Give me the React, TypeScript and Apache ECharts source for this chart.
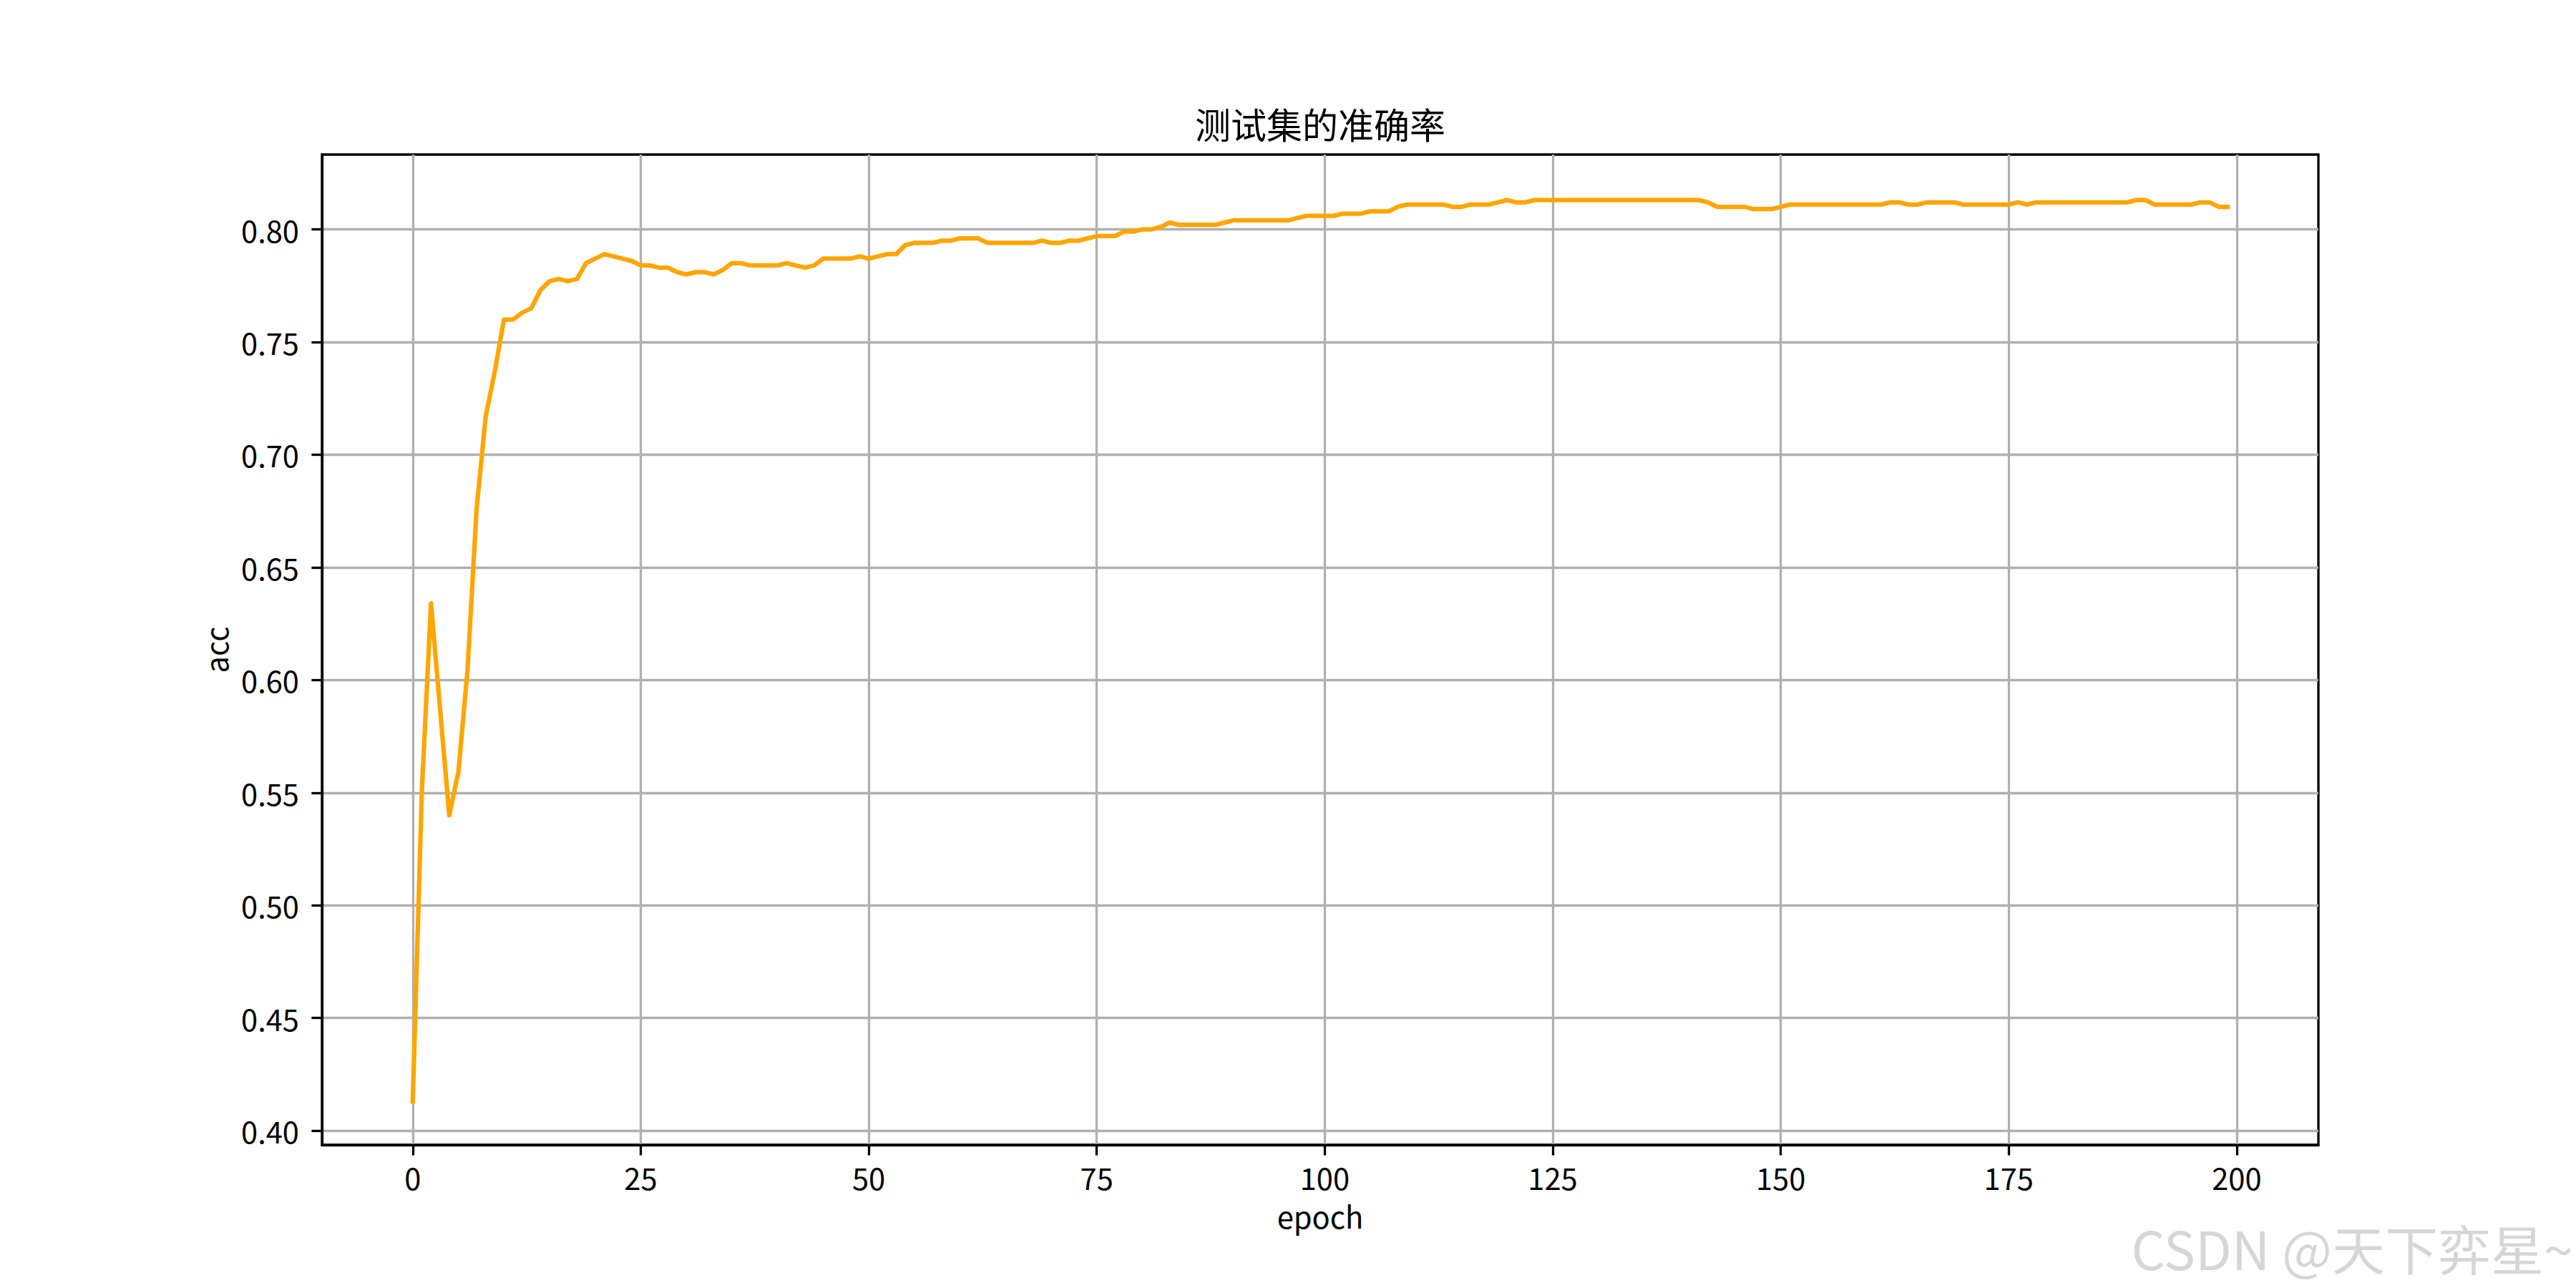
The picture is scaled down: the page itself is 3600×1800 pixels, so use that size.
import React, { useEffect, useRef } from "react";
import * as echarts from "echarts";

// test-set accuracy per epoch (epochs 0..199)
const acc: number[] = [
  0.413, 0.551, 0.634, 0.587, 0.540, 0.559, 0.604, 0.676, 0.717, 0.737,
  0.760, 0.760, 0.763, 0.765, 0.773, 0.777, 0.778, 0.777, 0.778, 0.785,
  0.787, 0.789, 0.788, 0.787, 0.786, 0.784, 0.784, 0.783, 0.783, 0.781,
  0.780, 0.781, 0.781, 0.780, 0.782, 0.785, 0.785, 0.784, 0.784, 0.784,
  0.784, 0.785, 0.784, 0.783, 0.784, 0.787, 0.787, 0.787, 0.787, 0.788,
  0.787, 0.788, 0.789, 0.789, 0.793, 0.794, 0.794, 0.794, 0.795, 0.795,
  0.796, 0.796, 0.796, 0.794, 0.794, 0.794, 0.794, 0.794, 0.794, 0.795,
  0.794, 0.794, 0.795, 0.795, 0.796, 0.797, 0.797, 0.797, 0.799, 0.799,
  0.800, 0.800, 0.801, 0.803, 0.802, 0.802, 0.802, 0.802, 0.802, 0.803,
  0.804, 0.804, 0.804, 0.804, 0.804, 0.804, 0.804, 0.805, 0.806, 0.806,
  0.806, 0.806, 0.807, 0.807, 0.807, 0.808, 0.808, 0.808, 0.810, 0.811,
  0.811, 0.811, 0.811, 0.811, 0.810, 0.810, 0.811, 0.811, 0.811, 0.812,
  0.813, 0.812, 0.812, 0.813, 0.813, 0.813, 0.813, 0.813, 0.813, 0.813,
  0.813, 0.813, 0.813, 0.813, 0.813, 0.813, 0.813, 0.813, 0.813, 0.813,
  0.813, 0.813, 0.812, 0.810, 0.810, 0.810, 0.810, 0.809, 0.809, 0.809,
  0.810, 0.811, 0.811, 0.811, 0.811, 0.811, 0.811, 0.811, 0.811, 0.811,
  0.811, 0.811, 0.812, 0.812, 0.811, 0.811, 0.812, 0.812, 0.812, 0.812,
  0.811, 0.811, 0.811, 0.811, 0.811, 0.811, 0.812, 0.811, 0.812, 0.812,
  0.812, 0.812, 0.812, 0.812, 0.812, 0.812, 0.812, 0.812, 0.812, 0.813,
  0.813, 0.811, 0.811, 0.811, 0.811, 0.811, 0.812, 0.812, 0.810, 0.810,
];

const xTicks: number[] = [0, 25, 50, 75, 100, 125, 150, 175, 200];
const yTicks: number[] = [0.4, 0.45, 0.5, 0.55, 0.6, 0.65, 0.7, 0.75, 0.8];

const titleText = "测试集的准确率";
const xName = "epoch";
const yName = "acc";
const watermark = "CSDN @天下弈星~";

const FONT = '"Noto Sans CJK SC", "Noto Sans", sans-serif';

export default function App() {
  const ref = useRef<HTMLDivElement>(null);

  useEffect(() => {
    if (!ref.current) return;
    const chart = echarts.init(ref.current, null, { renderer: "svg" });
    const lw = 3.3;
    chart.setOption({
      animation: false,
      backgroundColor: "#ffffff",
      grid: {
        left: 450,
        right: 360,
        top: 216,
        bottom: 200,
        show: true,
        borderColor: "#000000",
        borderWidth: lw,
        backgroundColor: "transparent",
        containLabel: false,
        outerBoundsMode: "none",
      },
      graphic: [
        {
          type: "text",
          x: 1845,
          y: 172,
          style: {
            text: titleText,
            font: `50px ${FONT}`,
            fill: "#000000",
            textAlign: "center",
            textVerticalAlign: "middle",
          },
        },
        {
          type: "text",
          x: 3596,
          y: 1742,
          z: 10,
          style: {
            text: watermark,
            font: `74px ${FONT}`,
            fill: "#d6d6d6",
            textAlign: "right",
            textVerticalAlign: "middle",
          },
        },
      ],
      xAxis: {
        type: "value",
        min: -9.95,
        max: 208.95,
        name: xName,
        nameLocation: "middle",
        nameGap: 78,
        nameTextStyle: { fontFamily: FONT, fontSize: 41.67, color: "#000" },
        axisLine: { show: true, onZero: false, lineStyle: { color: "#000", width: lw } },
        axisTick: {
          show: true,
          customValues: xTicks,
          length: 14.6,
          inside: false,
          lineStyle: { color: "#000", width: lw },
        },
        axisLabel: {
          show: true,
          customValues: xTicks,
          margin: 24,
          fontFamily: FONT,
          fontSize: 41.67,
          color: "#000",
          formatter: (v: number) => String(Math.round(v)),
        },
        splitLine: { show: true, lineStyle: { color: "#b0b0b0", width: lw } },
      },
      yAxis: {
        type: "value",
        min: 0.3937,
        max: 0.8332,
        name: yName,
        nameLocation: "middle",
        nameGap: 128,
        nameTextStyle: { fontFamily: FONT, fontSize: 41.67, color: "#000" },
        axisLine: { show: true, onZero: false, lineStyle: { color: "#000", width: lw } },
        axisTick: {
          show: true,
          customValues: yTicks,
          length: 14.6,
          inside: false,
          lineStyle: { color: "#000", width: lw },
        },
        axisLabel: {
          show: true,
          customValues: yTicks,
          margin: 32,
          fontFamily: FONT,
          fontSize: 41.67,
          color: "#000",
          formatter: (v: number) => v.toFixed(2),
        },
        splitLine: { show: true, lineStyle: { color: "#b0b0b0", width: lw } },
      },
      series: [
        {
          type: "line",
          data: acc.map((v, i) => [i, v]),
          showSymbol: false,
          symbol: "none",
          lineStyle: { color: "#FFA500", width: 6.25, join: "round", cap: "square" },
          itemStyle: { color: "#FFA500" },
          z: 5,
        },
      ],
    });
    return () => chart.dispose();
  }, []);

  return (
    <div
      ref={ref}
      style={{ position: "absolute", left: 0, top: 0, width: 3600, height: 1800 }}
    />
  );
}
